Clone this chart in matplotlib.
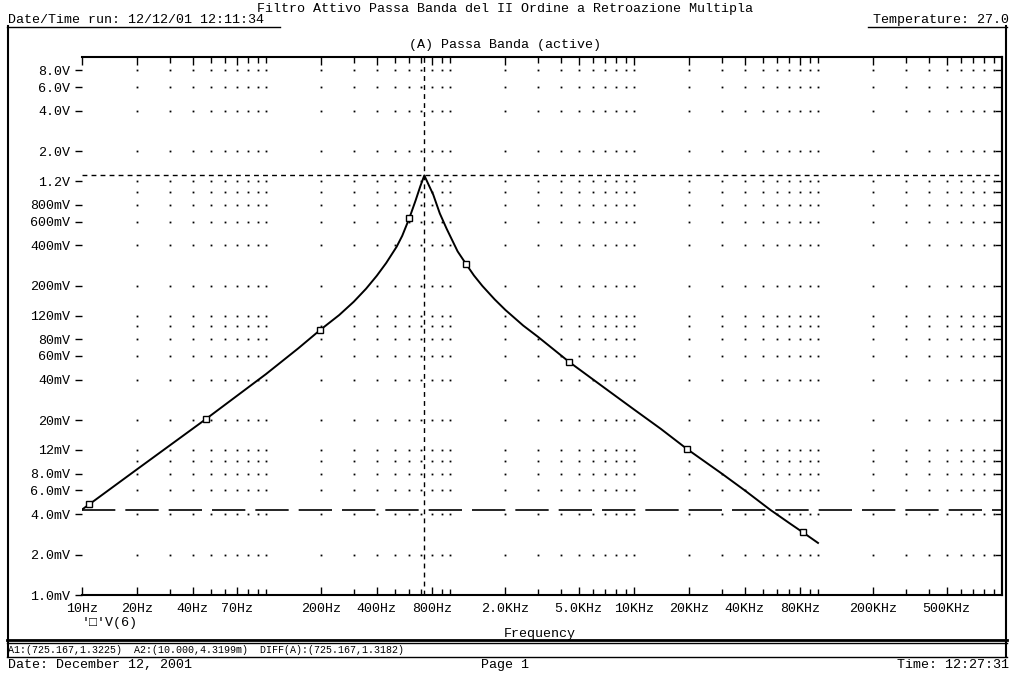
import numpy as np
import matplotlib
matplotlib.use("Agg")
import matplotlib.pyplot as plt
from matplotlib.ticker import FixedLocator, NullFormatter, NullLocator

plt.rcParams['font.family'] = ['Liberation Mono', 'DejaVu Sans Mono']
plt.rcParams['font.size'] = 9.6

# V(6) (Hz, V)
freq_hz = [10, 10.96, 20, 47, 100, 150, 197, 250, 300, 350, 400, 450, 513, 550,
           601, 650, 690, 725.167, 760, 811, 880, 959, 1100, 1222, 1350, 1500,
           1750, 2000, 2500, 3000, 4440, 7000, 10000, 14000, 19400, 30000,
           40000, 54800, 70000, 82600, 100000]
v_out = [0.00432, 0.00473, 0.00865, 0.0203, 0.044, 0.0685, 0.0937, 0.121, 0.152,
         0.190, 0.237, 0.295, 0.39, 0.47, 0.635, 0.86, 1.10, 1.3225, 1.15, 0.95,
         0.69, 0.53, 0.36, 0.290, 0.238, 0.199, 0.158, 0.132, 0.101, 0.0835,
         0.0542, 0.0343, 0.024, 0.0172, 0.0122, 0.0080, 0.0060, 0.00432,
         0.00342, 0.00293, 0.00244]

marker_f = [10.96, 47, 197, 601, 1222, 4440, 19400, 82600]
marker_v = [0.00473, 0.0203, 0.0937, 0.635, 0.290, 0.0542, 0.0122, 0.00293]

# cursors
cursor_a1 = (725.167, 1.3225)
cursor_a2 = (10.0, 4.3199e-3)

x_ticks = [10, 20, 40, 70, 200, 400, 800, 2000, 5000, 10000, 20000, 40000,
           80000, 200000, 500000]
x_tick_labels = ['10Hz', '20Hz', '40Hz', '70Hz', '200Hz', '400Hz', '800Hz',
                 '2.0KHz', '5.0KHz', '10KHz', '20KHz', '40KHz', '80KHz',
                 '200KHz', '500KHz']
y_ticks = [1e-3, 2e-3, 4e-3, 6e-3, 8e-3, 12e-3, 20e-3, 40e-3, 60e-3, 80e-3,
           0.12, 0.2, 0.4, 0.6, 0.8, 1.2, 2, 4, 6, 8]
y_tick_labels = ['1.0mV', '2.0mV', '4.0mV', '6.0mV', '8.0mV', '12mV', '20mV',
                 '40mV', '60mV', '80mV', '120mV', '200mV', '400mV', '600mV',
                 '800mV', '1.2V', '2.0V', '4.0V', '6.0V', '8.0V']

grid_f = [m * 10 ** d for d in range(1, 6) for m in range(2, 11)][:-1]
grid_v = sorted(set(y_ticks[1:] + [0.01, 0.1, 1.0]))

fig = plt.figure(figsize=(10.11, 6.76), dpi=100)

# page frame in pixel coords
fr = fig.add_axes([0, 0, 1, 1], zorder=0)
fr.set_xlim(0, 1011)
fr.set_ylim(676, 0)
fr.axis('off')
fr.text(505, 9, 'Filtro Attivo Passa Banda del II Ordine a Retroazione Multipla',
        ha='center', va='center')
fr.text(8, 20, 'Date/Time run: 12/12/01 12:11:34', ha='left', va='center')
fr.text(1009, 20, 'Temperature: 27.0', ha='right', va='center')
fr.plot([7, 280], [26.5, 26.5], color='k', lw=1)
fr.plot([868, 1007], [26.5, 26.5], color='k', lw=1)
fr.text(505, 45, '(A) Passa Banda (active)', ha='center', va='center')
fr.plot([7.5, 7.5], [26, 657], color='k', lw=1.5)
fr.plot([1006, 1006], [26, 657], color='k', lw=1.5)
fr.text(82, 623, "'\u25a1'V(6)", ha='left', va='center')
fr.text(540, 634, 'Frequency', ha='center', va='center')
fr.plot([7, 1007], [639.5, 639.5], color='k', lw=2)
fr.plot([7, 1007], [642.5, 642.5], color='k', lw=1)
fr.text(8, 650, 'A1:(725.167,1.3225)  A2:(10.000,4.3199m)  DIFF(A):(725.167,1.3182)',
        ha='left', va='center', fontsize=7.2)
fr.plot([7, 1007], [657, 657], color='k', lw=1)
fr.text(8, 665, 'Date: December 12, 2001', ha='left', va='center')
fr.text(505, 665, 'Page 1', ha='center', va='center')
fr.text(1009, 665, 'Time: 12:27:31', ha='right', va='center')

ax = fig.add_axes([82 / 1011, 1 - 595 / 676, 920 / 1011, 537.7 / 676], zorder=1)
ax.patch.set_alpha(0)
ax.set_xscale('log')
ax.set_yscale('log')
ax.set_xlim(10, 1e6)
ax.set_ylim(1e-3, 10)

ax.xaxis.set_major_locator(FixedLocator(x_ticks))
ax.set_xticklabels(x_tick_labels)
ax.xaxis.set_minor_locator(FixedLocator(grid_f))
ax.xaxis.set_minor_formatter(NullFormatter())
ax.yaxis.set_major_locator(FixedLocator(y_ticks))
ax.set_yticklabels(y_tick_labels)
ax.yaxis.set_minor_locator(NullLocator())

ax.tick_params(axis='x', which='major', direction='in', length=6, width=1,
               top=True, pad=6)
ax.tick_params(axis='x', which='minor', direction='in', length=4, width=1, top=True)
ax.tick_params(axis='y', which='major', direction='out', length=5, width=1,
               left=True, right=False, pad=3.5)

for s in ['top', 'bottom', 'right']:
    ax.spines[s].set_linewidth(1.5)
ax.spines['left'].set_visible(False)

sec = ax.secondary_yaxis('right')
sec.yaxis.set_major_locator(FixedLocator(grid_v))
sec.yaxis.set_minor_locator(NullLocator())
sec.tick_params(direction='in', length=5, width=1, labelright=False)
sec.spines['right'].set_linewidth(1.5)

# dotted grid at the intersections
gx, gy = np.meshgrid(grid_f, grid_v)
ax.plot(gx.ravel(), gy.ravel(), ls='none', marker='s', ms=1.3, mew=0, color='k')

ax.plot(freq_hz, v_out, color='k', lw=1.4)
ax.plot(marker_f, marker_v, ls='none', marker='s', ms=4.5, mfc='white',
        mec='k', mew=1)

ax.axvline(cursor_a1[0], color='k', lw=1, ls=(0, (3.5, 3)))
ax.axhline(cursor_a1[1], color='k', lw=1, ls=(0, (3.5, 3)))
ax.axhline(cursor_a2[1], color='k', lw=1.2, ls=(0, (20, 6)))

fig.savefig('out.png', dpi=100)
